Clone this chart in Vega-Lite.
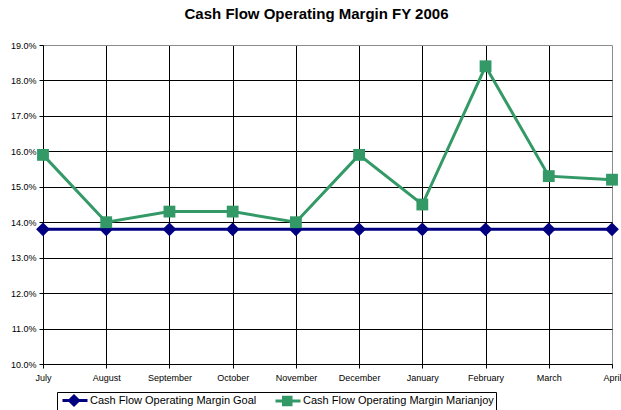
{
  "$schema": "https://vega.github.io/schema/vega-lite/v6.json",
  "width": 569,
  "height": 319,
  "autosize": {"type": "none"},
  "padding": {"left": 43, "top": 45, "right": 9, "bottom": 46},
  "background": "white",
  "config": {
    "view": {"stroke": null},
    "font": "Liberation Sans"
  },
  "title": {
    "text": "Cash Flow Operating Margin FY 2006",
    "fontSize": 15,
    "font": "Liberation Sans",
    "fontWeight": "bold",
    "color": "black",
    "anchor": "middle",
    "offset": 19,
    "dx": -11
  },
  "data": {
    "values": [
      {"month": "July", "series": "Cash Flow Operating Margin Goal", "value": 0.138},
      {"month": "August", "series": "Cash Flow Operating Margin Goal", "value": 0.138},
      {"month": "September", "series": "Cash Flow Operating Margin Goal", "value": 0.138},
      {"month": "October", "series": "Cash Flow Operating Margin Goal", "value": 0.138},
      {"month": "November", "series": "Cash Flow Operating Margin Goal", "value": 0.138},
      {"month": "December", "series": "Cash Flow Operating Margin Goal", "value": 0.138},
      {"month": "January", "series": "Cash Flow Operating Margin Goal", "value": 0.138},
      {"month": "February", "series": "Cash Flow Operating Margin Goal", "value": 0.138},
      {"month": "March", "series": "Cash Flow Operating Margin Goal", "value": 0.138},
      {"month": "April", "series": "Cash Flow Operating Margin Goal", "value": 0.138},
      {"month": "July", "series": "Cash Flow Operating Margin Marianjoy", "value": 0.159},
      {"month": "August", "series": "Cash Flow Operating Margin Marianjoy", "value": 0.140},
      {"month": "September", "series": "Cash Flow Operating Margin Marianjoy", "value": 0.143},
      {"month": "October", "series": "Cash Flow Operating Margin Marianjoy", "value": 0.143},
      {"month": "November", "series": "Cash Flow Operating Margin Marianjoy", "value": 0.140},
      {"month": "December", "series": "Cash Flow Operating Margin Marianjoy", "value": 0.159},
      {"month": "January", "series": "Cash Flow Operating Margin Marianjoy", "value": 0.145},
      {"month": "February", "series": "Cash Flow Operating Margin Marianjoy", "value": 0.184},
      {"month": "March", "series": "Cash Flow Operating Margin Marianjoy", "value": 0.153},
      {"month": "April", "series": "Cash Flow Operating Margin Marianjoy", "value": 0.152}
    ]
  },
  "encoding": {
    "x": {
      "field": "month",
      "type": "ordinal",
      "sort": ["July", "August", "September", "October", "November", "December", "January", "February", "March", "April"],
      "scale": {"type": "point", "padding": 0},
      "axis": {
        "title": null,
        "labelAngle": 0,
        "labelFontSize": 9,
        "labelColor": "black",
        "labelPadding": 5,
        "tickSize": 4,
        "tickColor": "black",
        "domainColor": "black",
        "domainWidth": 1,
        "grid": true,
        "gridColor": {"condition": {"test": "datum.value === 'April'", "value": "#8c8c8c"}, "value": "black"},
        "gridOpacity": 1,
        "gridWidth": 1,
        "labelFlush": false
      }
    },
    "y": {
      "field": "value",
      "type": "quantitative",
      "scale": {"domain": [0.10, 0.19], "nice": false, "zero": false},
      "axis": {
        "title": null,
        "values": [0.10, 0.11, 0.12, 0.13, 0.14, 0.15, 0.16, 0.17, 0.18, 0.19],
        "format": ".1%",
        "labelFontSize": 9,
        "labelColor": "black",
        "labelPadding": 3,
        "tickSize": 4,
        "tickColor": "black",
        "domainColor": "black",
        "domainWidth": 1,
        "grid": true,
        "gridColor": {"condition": {"test": "datum.value >= 0.1895", "value": "#8c8c8c"}, "value": "black"},
        "gridOpacity": 1,
        "gridWidth": 1,
        "labelFlush": false
      }
    }
  },
  "layer": [
    {
      "mark": {"type": "line", "strokeWidth": 3},
      "encoding": {
        "color": {
          "field": "series",
          "type": "nominal",
          "scale": {
            "domain": ["Cash Flow Operating Margin Goal", "Cash Flow Operating Margin Marianjoy"],
            "range": ["#000080", "#339966"]
          },
          "legend": {
            "title": null,
            "orient": "none",
            "legendX": 14,
            "legendY": 347,
            "direction": "horizontal",
            "strokeColor": "black",
            "fillColor": "white",
            "padding": 2,
            "labelFontSize": 11,
            "labelFont": "Liberation Sans",
            "labelColor": "black",
            "labelLimit": 400,
            "labelOffset": 18,
            "symbolSize": 100,
            "symbolStrokeWidth": 3,
            "columnPadding": 12,
            "symbolOpacity": 1,
            "encode": {
              "symbols": {
                "update": {
                  "shape": {"signal": "datum.value === 'Cash Flow Operating Margin Goal' ? 'M-0.6,0H4.4M0.8,0L1.7,-0.9L2.6,0L1.7,0.9Z' : 'M-0.6,0H4.4M1,-0.75H2.5V0.75H1Z'"},
                  "fill": {"signal": "datum.value === 'Cash Flow Operating Margin Goal' ? '#000080' : '#339966'"},
                  "stroke": {"signal": "datum.value === 'Cash Flow Operating Margin Goal' ? '#000080' : '#339966'"},
                  "strokeWidth": {"value": 3},
                  "opacity": {"value": 1}
                }
              }
            }
          }
        }
      }
    },
    {
      "transform": [{"filter": "datum.series === 'Cash Flow Operating Margin Goal'"}],
      "mark": {"type": "point", "filled": true, "opacity": 1, "shape": "diamond", "size": 190, "color": "#000080"}
    },
    {
      "transform": [{"filter": "datum.series === 'Cash Flow Operating Margin Marianjoy'"}],
      "mark": {"type": "point", "filled": true, "opacity": 1, "shape": "square", "size": 140, "color": "#339966"}
    }
  ]
}
